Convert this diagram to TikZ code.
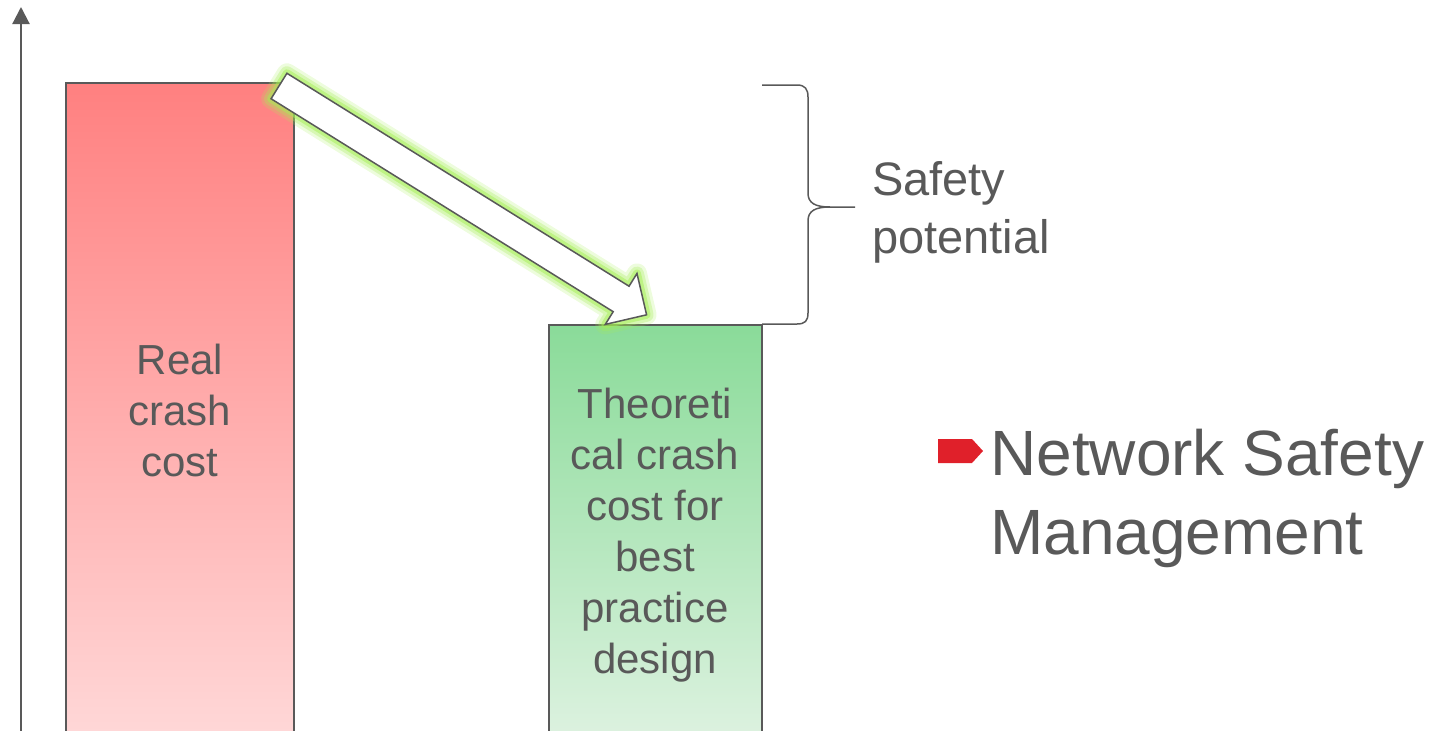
\documentclass[tikz,border=0pt]{standalone}
\usepackage{fontspec}
\setmainfont{Liberation Sans}
\usetikzlibrary{arrows.meta}
\definecolor{txtgray}{RGB}{89,89,89}
\definecolor{redtop}{RGB}{255,128,128}
\definecolor{redbot}{RGB}{255,216,216}
\definecolor{grntop}{RGB}{138,219,153}
\definecolor{grnbot}{RGB}{221,242,224}
\definecolor{glow}{RGB}{165,238,85}
\definecolor{bulletred}{RGB}{224,32,42}
\newcommand{\bigarrowpath}{(0,15) -- (403,15) -- (403,30) -- (433,0) -- (403,-30) -- (403,-15) -- (0,-15) -- cycle}
\begin{document}
\begin{tikzpicture}[x=1pt,y=-1pt,
  barlabel/.style={inner sep=0pt, align=center, text=txtgray, font=\fontsize{42}{51}\selectfont},
  sidelabel/.style={inner sep=0pt, align=left, text=txtgray}]
\useasboundingbox (0,0) rectangle (1430,731);
% axis
\coordinate (axisbot) at (21,731);
\coordinate (axistop) at (21,7);
\draw[txtgray, line width=2.2pt, -{Triangle[width=17pt,length=17pt]}] (axisbot) -- (axistop);
% bars
\shade[top color=redtop, bottom color=redbot, draw=txtgray, line width=1.5pt] (66,83) rectangle (294,740);
\shade[top color=grntop, bottom color=grnbot, draw=txtgray, line width=1.5pt] (549,325) rectangle (762,740);
% brace
\draw[txtgray, line width=1.5pt] (762,85) -- (797,85) .. controls (805,85) and (808,89) .. (808,97) -- (808,193)
  .. controls (808,203) and (815,207) .. (830,207) -- (855,207);
\draw[txtgray, line width=1.5pt] (830,207) .. controls (815,207) and (808,211) .. (808,221) -- (808,313)
  .. controls (808,321) and (805,324) .. (797,324) -- (762,324);
% arrow with glow
\begin{scope}[shift={(279,86)}, rotate=-31.9]
\draw[glow, opacity=.2, line width=20pt, line join=round] \bigarrowpath;
\draw[glow, opacity=.3, line width=14pt, line join=round] \bigarrowpath;
\draw[glow, opacity=.5, line width=8pt, line join=round] \bigarrowpath;
\filldraw[fill=white, draw=txtgray, line width=1.5pt] \bigarrowpath;
\end{scope}
% labels
\node[barlabel] (real) at (180,410) {Real\\crash\\cost};
\node[barlabel] (theo) at (655,535) {Theoreti\\cal crash\\cost for\\best\\practice\\design};
\node[sidelabel, anchor=west, font=\fontsize{47}{58}\selectfont] (potential) at (872,212) {Safety\\potential};
\node[sidelabel, anchor=west, font=\fontsize{64}{79}\selectfont] (nsm) at (990,498) {Network Safety\\Management};
\fill[bulletred] (938,439) -- (972,439) -- (983,451) -- (972,463) -- (938,463) -- cycle;
\end{tikzpicture}
\end{document}
